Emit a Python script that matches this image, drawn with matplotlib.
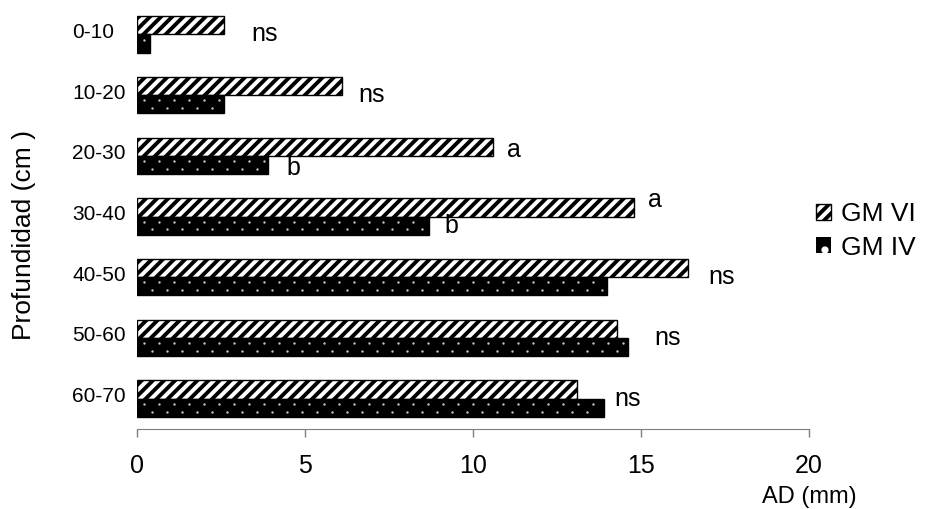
import matplotlib
matplotlib.use("Agg")
import matplotlib.pyplot as plt
import matplotlib.patches as mpatches
import matplotlib.transforms as mtransforms
import numpy as np

plt.rcParams["font.family"] = ["Liberation Sans", "DejaVu Sans"]
plt.rcParams["hatch.linewidth"] = 2.8

depths = ["0-10", "10-20", "20-30", "30-40", "40-50", "50-60", "60-70"]
gm_vi = [2.6, 6.1, 10.6, 14.8, 16.4, 14.3, 13.1]
gm_iv = [0.4, 2.6, 3.9, 8.7, 14.0, 14.6, 13.9]
sig_vi = ["ns", "ns", "a", "a", "ns", "ns", "ns"]
sig_iv = ["", "", "b", "b", "", "", ""]

# where each significance letter sits: (dx in mm past the bar, dy in rows)
vi_label_off = [(0.8, 0.0), (0.5, 0.0), (0.4, -0.1), (0.4, -0.27), (0.6, 0.0), (0.8, 0.0), (0.3, 0.0)]
iv_label_off = [(0, 0), (0, 0), (0.55, 0.2), (0.45, 0.16), (0, 0), (0, 0), (0, 0)]


def thin_hatch(artist, lw):
    # hatch linewidth is read from rcParams at draw time, so wrap the draw call
    draw = artist.draw

    def wrapped(renderer):
        with plt.rc_context({"hatch.linewidth": lw}):
            draw(renderer)

    artist.draw = wrapped


def plot_depth_bars():
    fig = plt.figure(figsize=(9.27, 5.09), dpi=100)
    ax = fig.add_axes([137 / 927, 1 - 429 / 509, 672 / 927, 425 / 509])

    y = np.arange(len(depths))
    h = 0.30

    ax.barh(y - h / 2, gm_vi, height=h, color="white", edgecolor="black",
            linewidth=1.0, hatch="///")
    ax.barh(y + h / 2, gm_iv, height=h, color="black", linewidth=0)

    # dotted fill of the GM IV bars: two staggered rows of small dots
    step = 0.446
    for i, v in enumerate(gm_iv):
        xa = np.arange(0.2, v - 0.1, step)
        xb = np.arange(step, v - 0.1, step)
        ax.scatter(xa, np.full(len(xa), i + h / 2 - 0.064), s=3, color="#c4c4c4",
                   linewidths=0, zorder=2)
        ax.scatter(xb, np.full(len(xb), i + h / 2 + 0.064), s=3, color="#c4c4c4",
                   linewidths=0, zorder=2)
    ax.barh(y + h / 2, gm_iv, height=h, fill=False, edgecolor="black", linewidth=1.0,
            zorder=3)

    # significance letters
    for i in range(len(depths)):
        dx, dy = vi_label_off[i]
        ax.text(max(gm_vi[i], gm_iv[i]) + dx, i + dy, sig_vi[i], fontsize=18,
                ha="left", va="center")
        if sig_iv[i]:
            dx, dy = iv_label_off[i]
            ax.text(gm_iv[i] + dx, i + dy, sig_iv[i], fontsize=18,
                    ha="left", va="center")

    ax.set_xlim(0, 20)
    ax.set_ylim(len(depths) - 0.5, -0.5)
    ax.set_xticks(np.arange(0, 21, 5))
    ax.set_yticks(y)
    ax.set_yticklabels(depths, fontsize=15)
    ax.tick_params(axis="y", length=0, pad=46.8)
    up = mtransforms.ScaledTranslation(0, 4 / 100, fig.dpi_scale_trans)
    for lab in ax.get_yticklabels():
        lab.set_horizontalalignment("left")
        lab.set_transform(lab.get_transform() + up)
    ax.tick_params(axis="x", direction="out", length=6, width=1, color="#7f7f7f",
                   labelsize=18, pad=12)
    for side in ["top", "right", "left"]:
        ax.spines[side].set_visible(False)
    ax.spines["bottom"].set_color("#7f7f7f")

    fig.text(857 / 927, 1 - 497 / 509, "AD (mm)", fontsize=17, ha="right", va="center")
    fig.text(24 / 927, 1 - 235 / 509, "Profundidad (cm )", fontsize=19,
             rotation=90, ha="center", va="center")

    h_vi = mpatches.Patch(facecolor="white", edgecolor="black", linewidth=1.0,
                          hatch="///", label="GM VI")
    h_iv = mpatches.Patch(facecolor="black", edgecolor="white", linewidth=0,
                          hatch=".", label="GM IV")
    leg = ax.legend(handles=[h_vi, h_iv], loc="center left", frameon=False, fontsize=19,
                    bbox_to_anchor=(816 / 927, 1 - 231 / 509),
                    bbox_transform=fig.transFigure, borderpad=0, borderaxespad=0,
                    handlelength=0.55, handleheight=0.55, handletextpad=0.4,
                    labelspacing=0.35)
    thin_hatch(leg.get_patches()[1], 0.3)

    fig.savefig("out.png", dpi=100)


if __name__ == "__main__":
    plot_depth_bars()
